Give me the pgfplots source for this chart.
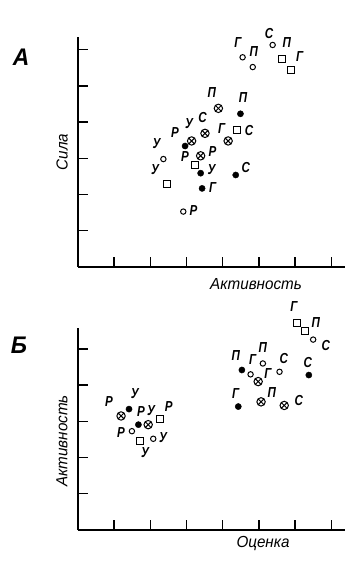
\documentclass[border=0pt]{standalone}
\usepackage{fontspec}
\setmainfont{Liberation Sans}
\newfontfamily\gost[FakeStretch=0.8]{Liberation Sans}
\newfontfamily\gostw[FakeStretch=0.95]{Liberation Sans}
\usepackage{pgfplots}
\pgfplotsset{compat=1.18}
\usetikzlibrary{plotmarks}
\begin{document}
\begin{tikzpicture}[x=1pt,y=1pt]
\useasboundingbox (0,0) rectangle (353,562);
\pgfplotsset{
  panel/.style={anchor=south west, scale only axis, width=267pt, xmin=0, xmax=7.38, ymin=0,
    axis lines=left, axis line style={-, line width=2pt}, xtick={1,...,7},
    xticklabels={}, yticklabels={}, tick align=inside, major tick length=10pt,
    tick style={line width=1.4pt, black}, clip=false},
  oc/.style={only marks, mark=o, mark size=2.7pt, black, mark options={line width=1pt}},
  sq/.style={only marks, mark=square, mark size=3.5pt, black, mark options={line width=1pt}},
  fc/.style={only marks, mark=*, mark size=3.1pt, black},
  ot/.style={only marks, mark=otimes, mark size=4.2pt, black, mark options={line width=1pt}},
}
\tikzset{lab/.style={font=\gost\bfseries\itshape\fontsize{14.5}{14.5}\selectfont, inner sep=0pt}}
% Panel A
\begin{axis}[panel, at={(78pt,295pt)}, height=230pt, ymax=6.35, ytick={1,...,6}]
\addplot[oc] coordinates {(2.91,1.53) (2.36,2.98) (4.55,5.79) (4.83,5.52) (5.38,6.13)};
\addplot[sq] coordinates {(4.40,3.78) (3.23,2.82) (2.47,2.29) (5.65,5.74) (5.90,5.44)};
\addplot[fc] coordinates {(4.49,4.23) (2.96,3.34) (3.39,2.59) (4.36,2.54) (3.43,2.17)};
\addplot[ot] coordinates {(3.88,4.38) (3.51,3.69) (4.15,3.48) (3.14,3.48) (3.39,3.07)};
\node[lab] at (axis cs:3.70,4.81) {П};
\node[lab] at (axis cs:4.56,4.67) {П};
\node[lab] at (axis cs:4.73,3.78) {С};
\node[lab] at (axis cs:3.44,4.14) {С};
\node[lab] at (axis cs:3.97,3.83) {Г};
\node[lab] at (axis cs:3.07,3.97) {У};
\node[lab] at (axis cs:2.68,3.71) {Р};
\node[lab] at (axis cs:3.72,3.20) {Р};
\node[lab] at (axis cs:2.96,3.05) {Р};
\node[lab] at (axis cs:3.69,2.70) {У};
\node[lab] at (axis cs:4.64,2.75) {С};
\node[lab] at (axis cs:3.72,2.20) {Г};
\node[lab] at (axis cs:3.19,1.56) {Р};
\node[lab] at (axis cs:2.17,3.42) {У};
\node[lab] at (axis cs:2.13,2.68) {У};
\node[lab] at (axis cs:4.42,6.19) {Г};
\node[lab] at (axis cs:4.86,5.94) {П};
\node[lab] at (axis cs:5.28,6.46) {С};
\node[lab] at (axis cs:5.77,6.19) {П};
\node[lab] at (axis cs:6.13,5.80) {Г};
\end{axis}
% Panel B
\begin{axis}[panel, at={(78pt,32pt)}, height=202pt, ymax=5.58, ytick={1,...,5}]
\addplot[oc] coordinates {(1.49,2.73) (2.08,2.52) (6.50,5.26) (5.11,4.60) (4.77,4.30) (5.57,4.37)};
\addplot[sq] coordinates {(2.27,3.08) (1.70,2.46) (6.05,5.73) (6.28,5.49)};
\addplot[fc] coordinates {(1.41,3.34) (1.67,2.91) (4.53,4.42) (6.38,4.28) (4.43,3.41)};
\addplot[ot] coordinates {(1.19,3.15) (1.94,2.91) (4.98,4.10) (5.06,3.54) (5.70,3.44)};
\node[lab] at (axis cs:0.86,3.54) {Р};
\node[lab] at (axis cs:1.57,3.76) {У};
\node[lab] at (axis cs:1.74,3.26) {Р};
\node[lab] at (axis cs:2.02,3.29) {У};
\node[lab] at (axis cs:2.51,3.40) {Р};
\node[lab] at (axis cs:1.19,2.68) {Р};
\node[lab] at (axis cs:1.85,2.13) {У};
\node[lab] at (axis cs:2.35,2.54) {У};
\node[lab] at (axis cs:5.97,6.16) {Г};
\node[lab] at (axis cs:6.57,5.72) {П};
\node[lab] at (axis cs:6.85,5.11) {С};
\node[lab] at (axis cs:5.11,5.03) {П};
\node[lab] at (axis cs:4.36,4.83) {П};
\node[lab] at (axis cs:4.83,4.70) {Г};
\node[lab] at (axis cs:5.25,4.31) {Г};
\node[lab] at (axis cs:5.69,4.75) {С};
\node[lab] at (axis cs:6.35,4.64) {С};
\node[lab] at (axis cs:4.36,3.76) {Г};
\node[lab] at (axis cs:5.36,3.81) {П};
\node[lab] at (axis cs:6.10,3.59) {С};
\end{axis}
% Titles and axis labels
\node[font=\gostw\bfseries\itshape\fontsize{24}{24}\selectfont, inner sep=0pt] at (21,505) {А};
\node[font=\gostw\bfseries\itshape\fontsize{24}{24}\selectfont, inner sep=0pt] at (19,217) {Б};
\node[font=\gostw\itshape\fontsize{16}{16}\selectfont, rotate=90, inner sep=0pt] at (62,410) {Сила};
\node[font=\gostw\itshape\fontsize{16}{16}\selectfont, inner sep=0pt] at (256,278) {Активность};
\node[font=\gostw\itshape\fontsize{16}{16}\selectfont, rotate=90, inner sep=0pt] at (62,121) {Активность};
\node[font=\gostw\itshape\fontsize{16}{16}\selectfont, inner sep=0pt] at (263,18) {Оценка};
\end{tikzpicture}
\end{document}
